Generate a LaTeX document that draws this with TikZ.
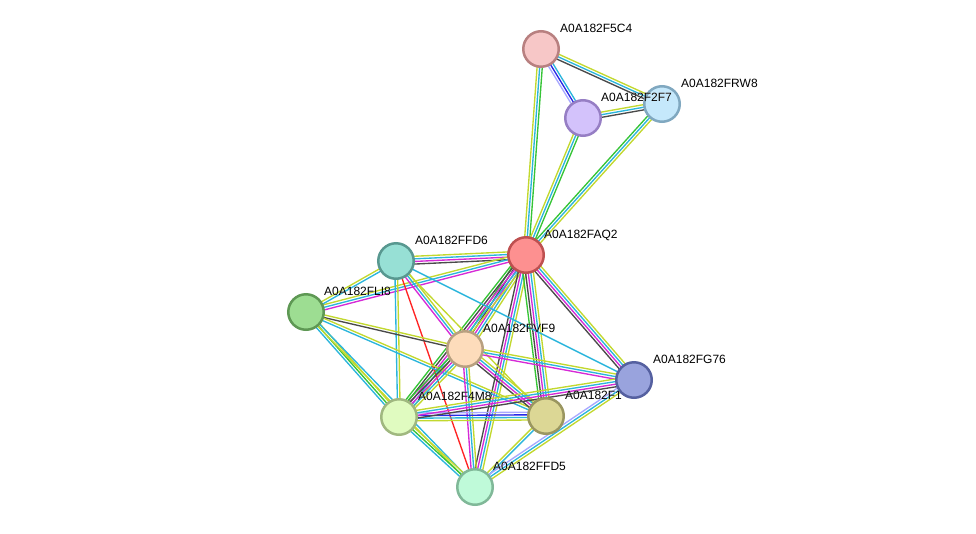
\documentclass[tikz,border=0pt]{standalone}
\usepackage{fontspec}
\setmainfont{Liberation Sans}
\usepackage[outline]{contour}
\contourlength{1.2pt}
\usetikzlibrary{calc}
\pgfdeclarelayer{background}
\pgfsetlayers{background,main}
\definecolor{tm}{HTML}{C2D82E}
\definecolor{db}{HTML}{2BB5DC}
\definecolor{ex}{HTML}{D62AD6}
\definecolor{co}{HTML}{4A4A4A}
\definecolor{nb}{HTML}{36C436}
\definecolor{cooc}{HTML}{2828E6}
\definecolor{fu}{HTML}{FF2424}
\definecolor{ho}{HTML}{A8A8FF}
\tikzset{
  prot/.style={circle, minimum size=35.5pt, inner sep=0pt, line width=2.5pt},
  lbl/.style={anchor=base west, inner sep=0pt, font=\fontsize{12}{14}\selectfont},
  strand/.style={line width=1.35pt}
}
\newcommand{\mystrands}[3]{%
  \xdef\nn{0}%
  \foreach \c in {#3}{\pgfmathtruncatemacro\tmp{\nn+1}\xdef\nn{\tmp}}%
  \foreach \c [count=\i] in {#3}{%
    \pgfmathsetmacro\off{(\i-(\nn+1)/2)*2.6}%
    \draw[strand, \c] ($(#1)!\off pt!90:(#2)$) -- ($(#2)!\off pt!-90:(#1)$);
  }%
}
\begin{document}
\begin{tikzpicture}[x=1pt,y=-1pt]
\useasboundingbox (0,0) rectangle (976,533);
\node[prot, fill={rgb,255:red,247;green,199;blue,199}, draw={rgb,255:red,184;green,128;blue,128}] (F5C4) at (541,49) {};
\node[lbl] (lF5C4) at (560,32) {\contour{white}{A0A182F5C4}};
\node[prot, fill={rgb,255:red,197;green,232;blue,251}, draw={rgb,255:red,128;green,168;blue,192}] (FRW8) at (662,104) {};
\node[lbl] (lFRW8) at (681,87) {\contour{white}{A0A182FRW8}};
\node[prot, fill={rgb,255:red,211;green,194;blue,251}, draw={rgb,255:red,150;green,126;blue,196}] (F2F7) at (583,118) {};
\node[lbl] (lF2F7) at (601,101) {\contour{white}{A0A182F2F7}};
\node[prot, fill={rgb,255:red,151;green,224;blue,213}, draw={rgb,255:red,88;green,152;blue,144}] (FFD6) at (396,261) {};
\node[lbl] (lFFD6) at (415,244) {\contour{white}{A0A182FFD6}};
\node[prot, fill={rgb,255:red,253;green,144;blue,144}, draw={rgb,255:red,190;green,80;blue,80}] (FAQ2) at (526,255) {};
\node[lbl] (lFAQ2) at (544,238) {\contour{white}{A0A182FAQ2}};
\node[prot, fill={rgb,255:red,157;green,221;blue,146}, draw={rgb,255:red,94;green,152;blue,84}] (FLI8) at (306,312) {};
\node[lbl] (lFLI8) at (324,295) {\contour{white}{A0A182FLI8}};
\node[prot, fill={rgb,255:red,253;green,220;blue,187}, draw={rgb,255:red,184;green,160;blue,128}] (FVF9) at (465,349) {};
\node[lbl] (lFVF9) at (483,332) {\contour{white}{A0A182FVF9}};
\node[prot, fill={rgb,255:red,224;green,251;blue,192}, draw={rgb,255:red,160;green,184;blue,128}] (F4M8) at (399,417) {};
\node[lbl] (lF4M8) at (418,400) {\contour{white}{A0A182F4M8}};
\node[prot, fill={rgb,255:red,220;green,215;blue,149}, draw={rgb,255:red,154;green,150;blue,96}] (F1X) at (546,416) {};
\node[lbl] (lF1X) at (565,399) {\contour{white}{A0A182F1}};
\node[prot, fill={rgb,255:red,153;green,163;blue,221}, draw={rgb,255:red,85;green,96;blue,160}] (FG76) at (634,380) {};
\node[lbl] (lFG76) at (653,363) {\contour{white}{A0A182FG76}};
\node[prot, fill={rgb,255:red,191;green,250;blue,217}, draw={rgb,255:red,128;green,184;blue,152}] (FFD5) at (475,487) {};
\node[lbl] (lFFD5) at (493,470) {\contour{white}{A0A182FFD5}};
\begin{pgfonlayer}{background}
\mystrands{F5C4}{F2F7}{ho,cooc,db}
\mystrands{F5C4}{FRW8}{co,db,tm}
\mystrands{F5C4}{FAQ2}{tm,db,nb}
\mystrands{F2F7}{FRW8}{co,db,tm}
\mystrands{F2F7}{FAQ2}{tm,db,nb}
\mystrands{FRW8}{FAQ2}{nb,db,tm}
\mystrands{FAQ2}{FFD6}{tm,db,ex,co}
\mystrands{FAQ2}{FLI8}{tm,db,ex}
\mystrands{FAQ2}{FVF9}{nb,co,ex,db,tm}
\mystrands{FAQ2}{F4M8}{nb,co,ex,db,tm}
\mystrands{FAQ2}{FFD5}{co,ex,db,tm}
\mystrands{FAQ2}{F1X}{nb,co,ex,db,tm}
\mystrands{FAQ2}{FG76}{co,ex,db,tm}
\mystrands{FFD6}{FLI8}{tm,db}
\mystrands{FFD6}{FVF9}{ex,db,tm}
\mystrands{FFD6}{F4M8}{db,tm}
\mystrands{FFD6}{FFD5}{fu}
\mystrands{FFD6}{FG76}{db}
\mystrands{FFD6}{F1X}{tm}
\mystrands{FLI8}{FVF9}{co,tm}
\mystrands{FLI8}{F1X}{db,tm}
\mystrands{FLI8}{F4M8}{db,nb,tm}
\mystrands{FLI8}{FFD5}{tm,db}
\mystrands{FVF9}{F4M8}{nb,co,ex,db,tm}
\mystrands{FVF9}{F1X}{co,ex,db,tm}
\mystrands{FVF9}{FG76}{ex,db,tm}
\mystrands{FVF9}{FFD5}{ex,db,tm}
\mystrands{F4M8}{F1X}{tm,db,cooc,ho}
\mystrands{F4M8}{FG76}{co,ex,db,tm}
\mystrands{F4M8}{FFD5}{db,nb,tm}
\mystrands{F1X}{FFD5}{tm,db}
\mystrands{FG76}{FFD5}{ho,db,tm}
\end{pgfonlayer}
\end{tikzpicture}
\end{document}
